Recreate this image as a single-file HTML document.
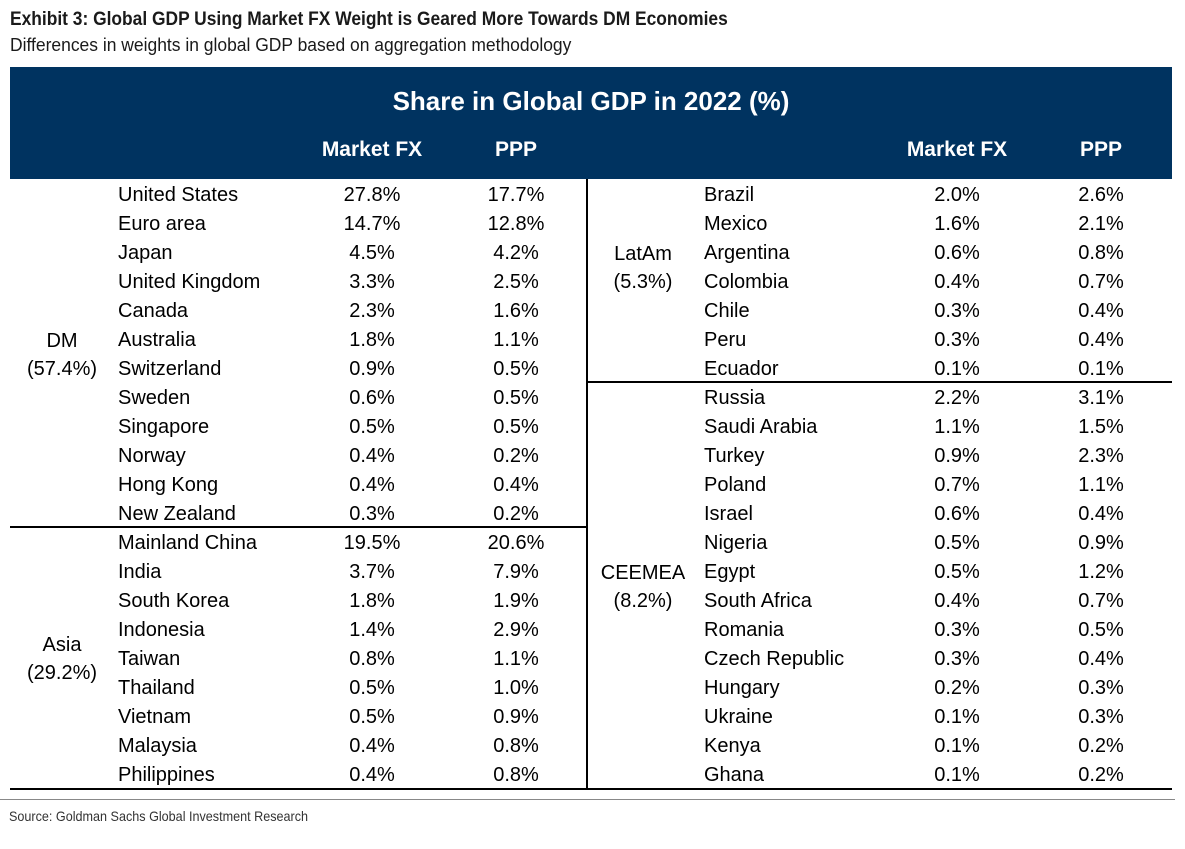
<!DOCTYPE html>
<html><head><meta charset="utf-8"><style>
body{margin:0;width:1185px;height:849px;background:#fff;position:relative;font-family:"Liberation Sans",sans-serif;overflow:hidden}
.a{position:absolute;white-space:nowrap}
.c{font-size:20px;color:#000;line-height:24px}
.v{text-align:center;width:100px}
.h{color:#fff;font-weight:bold;font-size:21px;text-align:center;width:140px}
</style></head><body>
<div class="a" style="left:10px;top:9px;font-size:19px;font-weight:bold;color:#1a1a1a;transform:scaleX(0.915);transform-origin:0 0">Exhibit 3: Global GDP Using Market FX Weight is Geared More Towards DM Economies</div>
<div class="a" style="left:10px;top:35px;font-size:18px;color:#1a1a1a;transform:scaleX(0.97);transform-origin:0 0">Differences in weights in global GDP based on aggregation methodology</div>
<div class="a" style="left:10px;top:67px;width:1162px;height:112px;background:#003360"></div>
<div class="a" style="left:10px;top:86px;width:1162px;text-align:center;color:#fff;font-weight:bold;font-size:26px">Share in Global GDP in 2022 (%)</div>
<div class="a h" style="left:302px;top:138px">Market FX</div>
<div class="a h" style="left:446px;top:138px">PPP</div>
<div class="a h" style="left:887px;top:138px">Market FX</div>
<div class="a h" style="left:1031px;top:138px">PPP</div>
<div class="a" style="left:586px;top:179px;width:2px;height:610px;background:#000"></div>
<div class="a" style="left:10px;top:526px;width:577px;height:2px;background:#000"></div>
<div class="a" style="left:587px;top:381px;width:585px;height:2px;background:#000"></div>
<div class="a" style="left:10px;top:788px;width:1162px;height:2px;background:#000"></div>
<div class="a" style="left:0;top:799px;width:1175px;height:1px;background:#888"></div>
<div class="a" style="left:9px;top:808px;font-size:14px;color:#333;transform:scaleX(0.9);transform-origin:0 0">Source: Goldman Sachs Global Investment Research</div>
<div id="rows"></div>
<script>
const leftNames=["United States","Euro area","Japan","United Kingdom","Canada","Australia","Switzerland","Sweden","Singapore","Norway","Hong Kong","New Zealand","Mainland China","India","South Korea","Indonesia","Taiwan","Thailand","Vietnam","Malaysia","Philippines"];
const leftFX=["27.8%","14.7%","4.5%","3.3%","2.3%","1.8%","0.9%","0.6%","0.5%","0.4%","0.4%","0.3%","19.5%","3.7%","1.8%","1.4%","0.8%","0.5%","0.5%","0.4%","0.4%"];
const leftPPP=["17.7%","12.8%","4.2%","2.5%","1.6%","1.1%","0.5%","0.5%","0.5%","0.2%","0.4%","0.2%","20.6%","7.9%","1.9%","2.9%","1.1%","1.0%","0.9%","0.8%","0.8%"];
const rightNames=["Brazil","Mexico","Argentina","Colombia","Chile","Peru","Ecuador","Russia","Saudi Arabia","Turkey","Poland","Israel","Nigeria","Egypt","South Africa","Romania","Czech Republic","Hungary","Ukraine","Kenya","Ghana"];
const rightFX=["2.0%","1.6%","0.6%","0.4%","0.3%","0.3%","0.1%","2.2%","1.1%","0.9%","0.7%","0.6%","0.5%","0.5%","0.4%","0.3%","0.3%","0.2%","0.1%","0.1%","0.1%"];
const rightPPP=["2.6%","2.1%","0.8%","0.7%","0.4%","0.4%","0.1%","3.1%","1.5%","2.3%","1.1%","0.4%","0.9%","1.2%","0.7%","0.5%","0.4%","0.3%","0.3%","0.2%","0.2%"];
const groups=[["DM","(57.4%)",62,5.5],["Asia","(29.2%)",62,16],["LatAm","(5.3%)",643,2.5],["CEEMEA","(8.2%)",643,13.5]];
const root=document.getElementById('rows');
function rowY(i){return 183+i*29;}
function add(txt,x,y,name,center){
  const d=document.createElement('div');
  d.className='a c'+(center?' v':'');
  d.style.left=(center?x-50:x)+'px';d.style.top=y+'px';
  d.textContent=txt;
  
  
  root.appendChild(d);
}
leftNames.forEach((n,i)=>{const y=rowY(i);
  add(n,118,y,'country-name',false);
  add(leftFX[i],372,y,'market-fx-value',true);
  add(leftPPP[i],516,y,'ppp-value',true);});
rightNames.forEach((n,i)=>{const y=rowY(i);
  add(n,704,y,'country-name',false);
  add(rightFX[i],957,y,'market-fx-value',true);
  add(rightPPP[i],1101,y,'ppp-value',true);});
groups.forEach(g=>{const y=rowY(g[3]);
  add(g[0],g[2],y-14,'group-label',true);
  add(g[1],g[2],y+14,'group-share',true);});
</script>
</body></html>
